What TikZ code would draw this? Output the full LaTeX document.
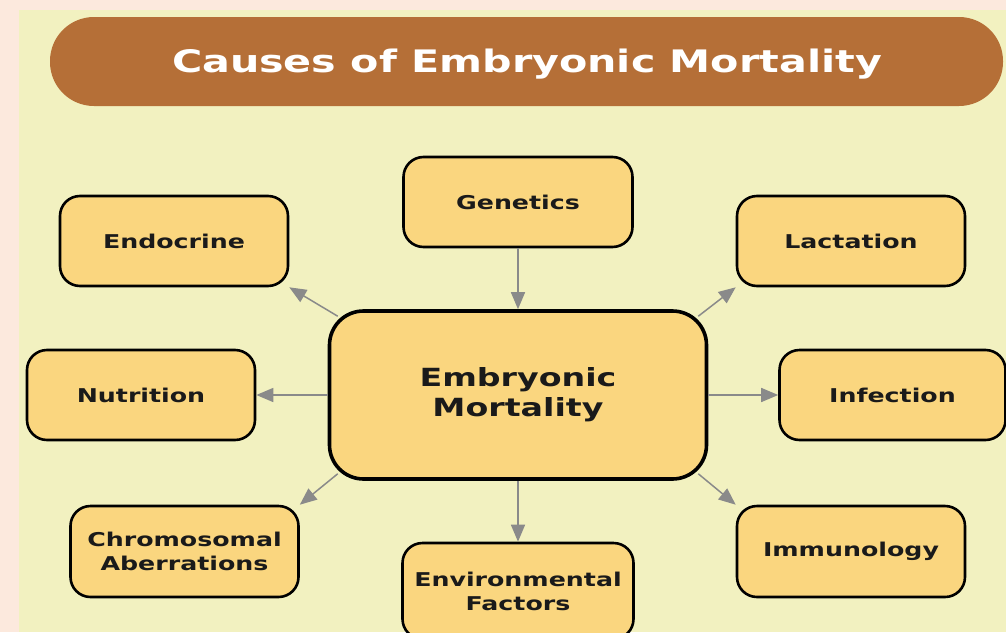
\documentclass[tikz,border=0pt]{standalone}
\usepackage{fontspec}
\usetikzlibrary{arrows.meta}
\newfontfamily\diagfont{DejaVu Sans}[FakeStretch=1.33]
\definecolor{pagebg}{HTML}{FCE9DD}
\definecolor{panelbg}{HTML}{F2F1C0}
\definecolor{bannerbrown}{HTML}{B56F37}
\definecolor{boxfill}{HTML}{FAD67F}
\definecolor{arrowgray}{HTML}{8A8A8A}
\definecolor{inkdark}{HTML}{1A1A1A}
\begin{document}
\begin{tikzpicture}[x=1pt,y=-1pt,
    cause/.style={draw=black,line width=2.6pt,fill=boxfill,rounded corners=20pt,
      minimum width=228pt,minimum height=90pt,align=center,text=inkdark,
      font=\diagfont\bfseries\fontsize{19}{24}\selectfont},
    hub/.style={cause,line width=3.6pt,rounded corners=34pt,
      minimum width=377pt,minimum height=168pt,
      font=\diagfont\bfseries\fontsize{25}{30}\selectfont},
    link/.style={draw=arrowgray,line width=1.5pt,-{Triangle[length=17pt,width=14pt]}}]
    \useasboundingbox (0,0) rectangle (1006,632);
    \fill[pagebg] (0,0) rectangle (1006,632);
    \fill[panelbg] (19,10) rectangle (1006,632);
    % title banner
    \fill[bannerbrown] (50,17) [rounded corners=44pt] rectangle (1003,106);
    \node[text=white,font=\diagfont\bfseries\fontsize{31}{36}\selectfont] (title) at (527,64) {Causes of Embryonic Mortality};
    % centre and the eight causes
    \node[hub] (mort) at (518,395) {Embryonic\\Mortality};
    \node[cause,minimum width=229pt] (gene) at (518,202) {Genetics};
    \node[cause] (endo) at (174,241) {Endocrine};
    \node[cause] (lact) at (851,241) {Lactation};
    \node[cause] (nutr) at (141,395) {Nutrition};
    \node[cause,minimum width=226pt] (infe) at (892.5,395) {Infection};
    \node[cause,minimum height=91pt] (chro) at (184.5,551.5) {Chromosomal\\Aberrations};
    \node[cause,minimum width=231pt,minimum height=96pt] (envi) at (518,591) {Environmental\\Factors};
    \node[cause,minimum height=91pt] (immu) at (851,551.5) {Immunology};
    % arrows
    \draw[link] (gene.south) -- (mort.north);
    \draw[link] (mort.south) -- (envi.north);
    \draw[link] (mort.west) -- (nutr.east);
    \draw[link] (mort.east) -- (infe.west);
    \draw[link] ([shift={(10,7)}]mort.north west) -- (endo.south east);
    \draw[link] ([shift={(-10,7)}]mort.north east) -- (lact.south west);
    \draw[link] ([shift={(10,-7)}]mort.south west) -- (chro.north east);
    \draw[link] ([shift={(-10,-7)}]mort.south east) -- (immu.north west);
\end{tikzpicture}
\end{document}
